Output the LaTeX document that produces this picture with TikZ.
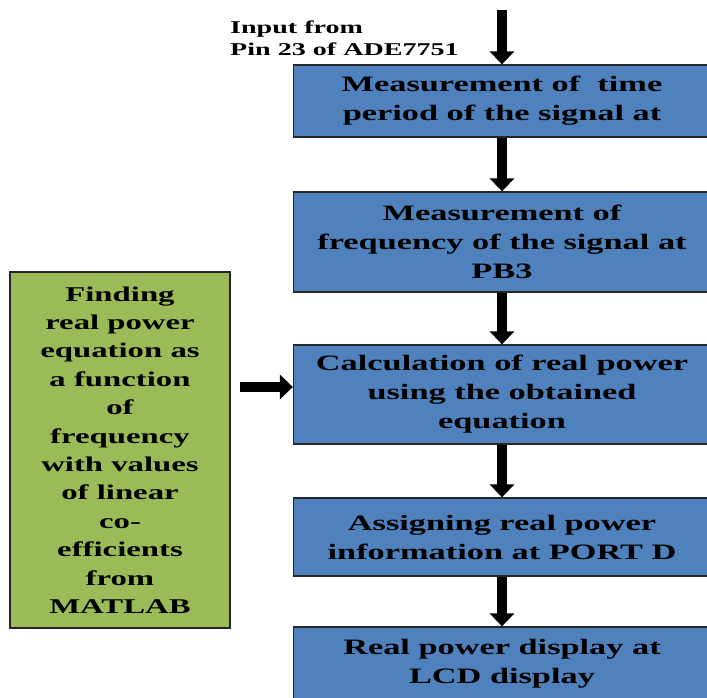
\documentclass[tikz,border=0pt]{standalone}
\usepackage{fontspec}
\setmainfont[FakeStretch=1.56]{Liberation Serif}
\usetikzlibrary{arrows.meta}
\definecolor{boxblue}{RGB}{79,129,189}
\definecolor{boxgreen}{RGB}{155,187,89}

\begin{document}
\begin{tikzpicture}[x=1pt, y=-1pt,
  blockbox/.style={draw=black!85, line width=1.3pt, fill=boxblue, minimum width=417pt, inner sep=0pt, align=center, font=\fontsize{22}{29}\selectfont\bfseries},
  sidebox/.style={draw=black!85, line width=1.3pt, fill=boxgreen, minimum width=220pt, minimum height=356pt, inner sep=0pt, align=center, font=\fontsize{21}{28.4}\selectfont\bfseries},
  bigarrow/.style={line width=10pt, -{Triangle[width=24pt,length=13pt]}}]
\useasboundingbox (0,0) rectangle (707,697);

% Main chain of blocks
\node[blockbox, minimum height=72pt] (period) at (502,101) {Measurement of\ \ time\\period of the signal at};
\node[blockbox, minimum height=100pt] (freq) at (502,242) {Measurement of\\frequency of the signal at\\PB3};
\node[blockbox, minimum height=99pt] (calc) at (502,394.5) {Calculation of real power\\using the obtained\\equation};
\node[blockbox, minimum height=78pt] (assign) at (502,537) {Assigning real power\\information at PORT D};
\node[blockbox, minimum height=74pt] (lcd) at (502,664) {Real power display at\\LCD display};

% Side block
\node[sidebox] (matlab) at (120,450) {Finding\\real power\\equation as\\a function\\of\\frequency\\with values\\of linear\\co-\\efficients\\from\\MATLAB};

% Input label
\node[anchor=north west, align=left, inner sep=0pt, font=\fontsize{18}{22}\selectfont\bfseries] (input) at (230,21) {Input from\\Pin 23 of ADE7751};

% Arrows
\coordinate (src) at (502,10);
\coordinate (feed) at (240,387);
\draw[bigarrow] (src) -- (period);
\draw[bigarrow] (period) -- (freq);
\draw[bigarrow] (freq) -- (calc);
\draw[bigarrow] (calc) -- (assign);
\draw[bigarrow] (assign) -- (lcd);
\draw[bigarrow] (feed) -- (calc.west |- feed);
\end{tikzpicture}
\end{document}
